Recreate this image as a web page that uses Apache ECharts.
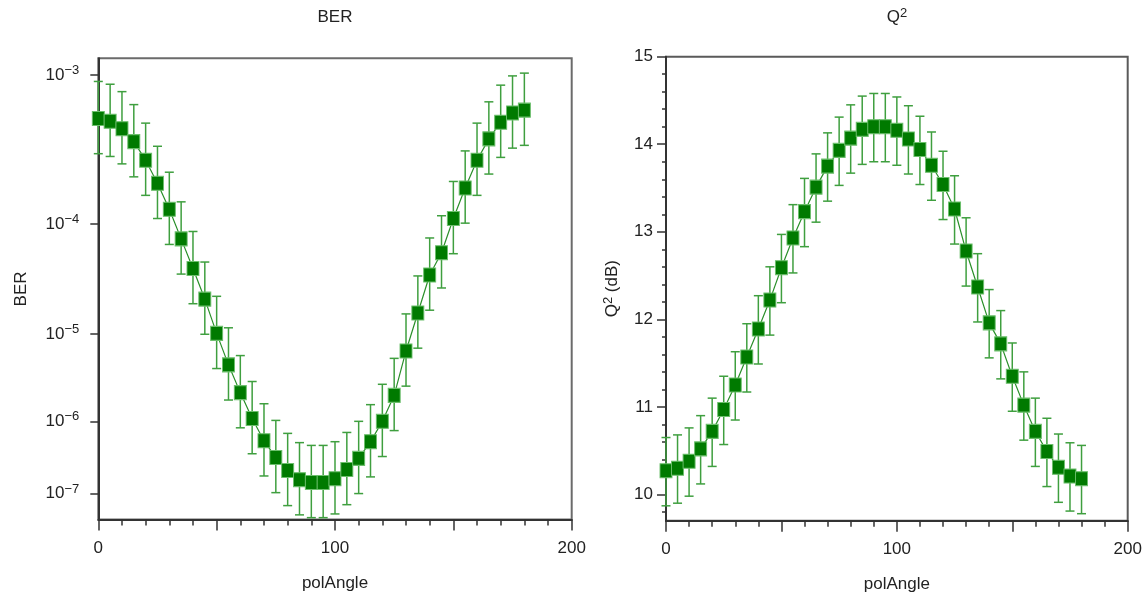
<!DOCTYPE html>
<html><head><meta charset="utf-8">
<script src="https://cdn.jsdelivr.net/npm/echarts@6/dist/echarts.min.js"></script>
<style>html,body{margin:0;padding:0;background:#fff}#c{width:1146px;height:602px}</style>
</head><body><div id="c"></div>
<script>
// ---- data ----
const polAngle = [0,5,10,15,20,25,30,35,40,45,50,55,60,65,70,75,80,85,90,95,100,105,110,115,120,125,130,135,140,145,150,155,160,165,170,175,180];
const q2dB = [10.27,10.30,10.38,10.52,10.72,10.97,11.25,11.57,11.89,12.22,12.59,12.93,13.23,13.51,13.75,13.93,14.07,14.17,14.20,14.20,14.16,14.06,13.94,13.76,13.54,13.26,12.78,12.37,11.96,11.72,11.35,11.02,10.72,10.49,10.31,10.21,10.18];
const errHigh = [0.38,0.38,0.38,0.38,0.38,0.38,0.38,0.38,0.38,0.38,0.38,0.38,0.38,0.38,0.38,0.38,0.38,0.38,0.38,0.38,0.38,0.38,0.38,0.38,0.38,0.38,0.38,0.38,0.38,0.38,0.38,0.38,0.38,0.38,0.38,0.38,0.38];
const errLow  = [0.40,0.40,0.40,0.40,0.40,0.40,0.40,0.40,0.40,0.40,0.40,0.40,0.40,0.40,0.40,0.40,0.40,0.40,0.40,0.40,0.40,0.40,0.40,0.40,0.40,0.40,0.40,0.40,0.40,0.40,0.40,0.40,0.40,0.40,0.40,0.40,0.40];
const berTicks = [1e-3,1e-4,1e-5,1e-6,1e-7];
const berTickExp = ['\u22123','\u22124','\u22125','\u22126','\u22127'];
const q2MajorTicks = [10,11,12,13,14,15];
const q2MinorTicks = [9.8,10.2,10.4,10.6,10.8,11.2,11.4,11.6,11.8,12.2,12.4,12.6,12.8,13.2,13.4,13.6,13.8,14.2,14.4,14.6,14.8];

// ---- BER <-> Q(dB) scale transform for the left axis ----
function erfc(x){
  const z=Math.abs(x), t=1/(1+0.5*z);
  const r=t*Math.exp(-z*z-1.26551223+t*(1.00002368+t*(0.37409196+t*(0.09678418+t*(-0.18628806+t*(0.27886807+t*(-1.13520398+t*(1.48851587+t*(-0.82215223+t*0.17087277)))))))));
  return x>=0?r:2-r;
}
function berToQdB(ber){
  let lo=0.01, hi=20;
  for(let i=0;i<100;i++){const m=(lo+hi)/2; if(0.5*erfc(m/Math.SQRT2)>ber) lo=m; else hi=m;}
  return 20*Math.log10((lo+hi)/2);
}
const berTickPos = berTicks.map(berToQdB);

const FONT = "'Liberation Sans', Arial, sans-serif";
const FS = 17;
const TXT = '#222';
const AX = '#333';
const GREEN_DARK = '#007a00';
const GREEN_ERR = '#3f9f3f';

const pts = polAngle.map((a,i)=>[a,q2dB[i]]);
const errData = polAngle.map((a,i)=>[a,q2dB[i]-errLow[i],q2dB[i]+errHigh[i]]);

function errRender(params, api){
  const x=api.value(0), lo=api.value(1), hi=api.value(2);
  const p1=api.coord([x,lo]), p2=api.coord([x,hi]);
  const w=4.5;
  const st={stroke:GREEN_ERR,lineWidth:1.5};
  return {type:'group',children:[
    {type:'line',shape:{x1:p1[0],y1:p1[1],x2:p2[0],y2:p2[1]},style:st},
    {type:'line',shape:{x1:p1[0]-w,y1:p1[1],x2:p1[0]+w,y2:p1[1]},style:st},
    {type:'line',shape:{x1:p2[0]-w,y1:p2[1],x2:p2[0]+w,y2:p2[1]},style:st}
  ]};
}

const xAxisCommon = {
  type:'value', min:0, max:200, interval:50,
  name:'polAngle', nameLocation:'middle', nameGap:55,
  nameTextStyle:{fontFamily:FONT,fontSize:FS,color:TXT},
  axisLine:{show:true,lineStyle:{color:AX,width:2}},
  axisTick:{show:true,length:11,lineStyle:{color:AX,width:1.5}},
  minorTick:{show:true,splitNumber:5,length:6,lineStyle:{color:AX,width:1.5}},
  axisLabel:{interval:1,margin:20,fontFamily:FONT,fontSize:FS,color:TXT,
    formatter:v=> (v%100===0? String(v):'')},
  splitLine:{show:false}, minorSplitLine:{show:false}
};

const option = {
  animation:false,
  backgroundColor:'#fff',
  textStyle:{fontFamily:FONT},
  grid:[
    {left:98.3, right:574.3, top:58.3, bottom:82.5, show:true, borderColor:'#6b6b6b', borderWidth:2, backgroundColor:'transparent'},
    {left:666, right:18.3, top:56.7, bottom:81.3, show:true, borderColor:'#5a5a5a', borderWidth:2, backgroundColor:'transparent'}
  ],
  graphic:[
    {type:'text',x:335,y:17,style:{text:'BER',fontFamily:FONT,fontSize:FS,fill:TXT,textAlign:'center',textVerticalAlign:'middle'}},
    {type:'text',x:897,y:17,style:{text:'{a|Q}{b|2}',fontFamily:FONT,fill:TXT,textAlign:'center',textVerticalAlign:'middle',
      rich:{a:{fontSize:FS,fontFamily:FONT,fill:TXT,lineHeight:20},b:{fontSize:13,fontFamily:FONT,fill:TXT,verticalAlign:'top',lineHeight:13}}}}
  ],
  xAxis:[
    Object.assign({gridIndex:0}, xAxisCommon),
    Object.assign({gridIndex:1}, xAxisCommon)
  ],
  yAxis:[
    {gridIndex:0, type:'value', inverse:true, min:9.62, max:14.60, position:'left',
      name:'BER', nameLocation:'middle', nameGap:68, nameRotate:90,
      nameTextStyle:{fontFamily:FONT,fontSize:FS,color:TXT},
      axisLine:{show:true,lineStyle:{color:AX,width:2}},
      axisTick:{show:true,length:8,customValues:berTickPos,lineStyle:{color:AX,width:1.5}},
      axisLabel:{show:true,margin:19,customValues:berTickPos,
        formatter:function(v){
          let k=0,d=1e9; berTickPos.forEach((p,i)=>{const dd=Math.abs(p-v); if(dd<d){d=dd;k=i;}});
          return '{a|10}{b|'+berTickExp[k]+'}';
        },
        rich:{a:{fontSize:FS,fontFamily:FONT,color:TXT,lineHeight:22},b:{fontSize:13,fontFamily:FONT,color:TXT,verticalAlign:'top',lineHeight:13}}},
      splitLine:{show:false}},
    {gridIndex:1, type:'value', min:9.7, max:15, position:'left',
      name:'{a|Q}{b|2}{a| (dB)}', nameLocation:'middle', nameGap:44, nameRotate:90,
      nameTextStyle:{fontFamily:FONT,fontSize:FS,color:TXT,
        rich:{a:{fontSize:FS,fontFamily:FONT,color:TXT,lineHeight:20},b:{fontSize:13,fontFamily:FONT,color:TXT,verticalAlign:'top',lineHeight:13}}},
      axisLine:{show:true,lineStyle:{color:AX,width:2}},
      axisTick:{show:true,length:9,customValues:q2MajorTicks,lineStyle:{color:AX,width:1.5}},
      axisLabel:{show:true,margin:13,customValues:q2MajorTicks,fontFamily:FONT,fontSize:FS,color:TXT},
      splitLine:{show:false}},
    {gridIndex:1, type:'value', min:9.7, max:15, position:'left',
      axisLine:{show:false},
      axisTick:{show:true,length:4,customValues:q2MinorTicks,lineStyle:{color:AX,width:1.5}},
      axisLabel:{show:false},
      splitLine:{show:false}}
  ],
  series:[
    {type:'custom',name:'BER err',xAxisIndex:0,yAxisIndex:0,renderItem:errRender,data:errData,encode:{x:0,y:[1,2]},z:2,silent:true},
    {type:'line',name:'BER',xAxisIndex:0,yAxisIndex:0,data:pts,symbol:'rect',symbolSize:[12,14],
      itemStyle:{color:GREEN_DARK,borderColor:'#6cbf6c',borderWidth:1},
      lineStyle:{color:'#2a8f2a',width:1.2},z:3},
    {type:'custom',name:'Q2 err',xAxisIndex:1,yAxisIndex:1,renderItem:errRender,data:errData,encode:{x:0,y:[1,2]},z:2,silent:true},
    {type:'line',name:'Q2',xAxisIndex:1,yAxisIndex:1,data:pts,symbol:'rect',symbolSize:[12,14],
      itemStyle:{color:GREEN_DARK,borderColor:'#6cbf6c',borderWidth:1},
      lineStyle:{color:'#2a8f2a',width:1.2},z:3}
  ]
};
const chart = echarts.init(document.getElementById('c'), null, {renderer:'canvas'});
chart.setOption(option);
</script>
</body></html>
